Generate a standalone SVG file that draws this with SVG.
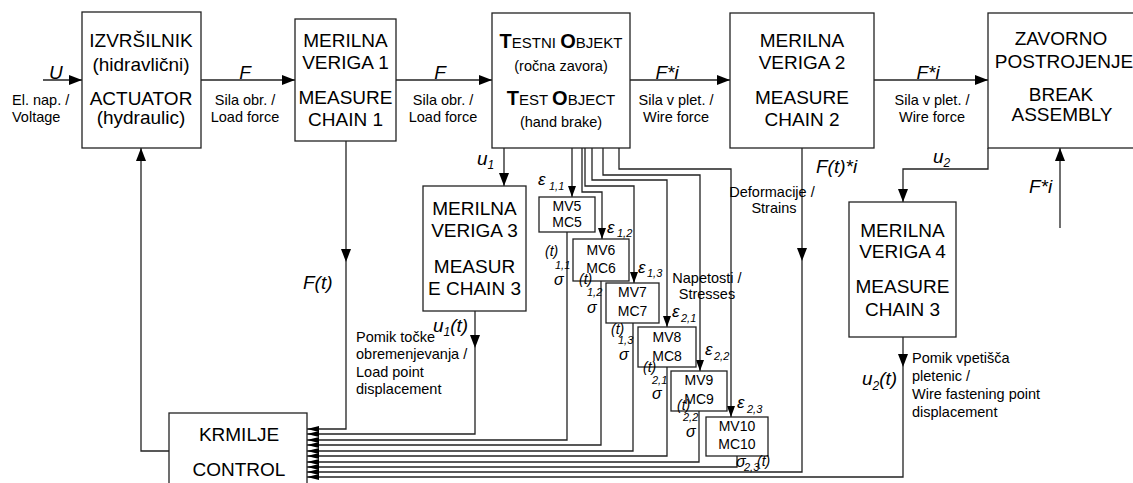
<svg xmlns="http://www.w3.org/2000/svg" width="1133" height="483" viewBox="0 0 1133 483">
<style>
text{font-family:"Liberation Sans",Arial,sans-serif;fill:#000}
.box{fill:#fff;stroke:#222;stroke-width:1.3}
.ln{fill:none;stroke:#222;stroke-width:1.3}
.b{font-size:19px;text-anchor:middle}
.s{font-size:14.5px}
.sc{font-size:14.5px;text-anchor:middle}
.i{font-size:19px;font-style:italic}
.ic{font-size:19px;font-style:italic;text-anchor:middle}
.mv{font-size:14px;text-anchor:middle}
.e{font-size:17px;font-style:italic}
.sub{font-size:11px;font-style:italic}
.tt{font-size:14px;font-style:italic}
.sg{font-size:16px;font-style:italic}
</style>
<defs>
<marker id="big" markerUnits="userSpaceOnUse" markerWidth="15" markerHeight="12" viewBox="-14 -6 15 12" refX="0" refY="0" orient="auto"><path d="M0,0 L-13,-5 L-13,5 Z" fill="#000"/></marker>
<marker id="med" markerUnits="userSpaceOnUse" markerWidth="13" markerHeight="10" viewBox="-12 -5 13 10" refX="0" refY="0" orient="auto"><path d="M0,0 L-11,-4 L-11,4 Z" fill="#000"/></marker>
<marker id="sm" markerUnits="userSpaceOnUse" markerWidth="14" markerHeight="8" viewBox="-13 -4 14 8" refX="0" refY="0" orient="auto"><path d="M0,0 L-12,-3 L-12,3 Z" fill="#000"/></marker>
</defs>

<g id="connectors">
<path class="ln" d="M43,80 H82" marker-end="url(#big)"/>
<path class="ln" d="M201,80 H295" marker-end="url(#big)"/>
<path class="ln" d="M396,80 H492" marker-end="url(#big)"/>
<path class="ln" d="M630,80 H730" marker-end="url(#big)"/>
<path class="ln" d="M874,80 H988" marker-end="url(#big)"/>
<path class="ln" d="M504,148 V186" marker-end="url(#big)"/>
<path class="ln" d="M572,148 V197" marker-end="url(#med)"/>
<path class="ln" d="M582,148 V192 H602 V239" marker-end="url(#med)"/>
<path class="ln" d="M585,148 V186 H634 V283" marker-end="url(#med)"/>
<path class="ln" d="M592,148 V180 H667 V327" marker-end="url(#med)"/>
<path class="ln" d="M603,148 V175 H700 V371" marker-end="url(#med)"/>
<path class="ln" d="M619,148 V169 H731 V417" marker-end="url(#med)"/>
<path class="ln" d="M802,148 V261" marker-end="url(#big)"/>
<path class="ln" d="M802,261 V472 H307" marker-end="url(#sm)"/>
<path class="ln" d="M988,148 V169 H903 V202" marker-end="url(#big)"/>
<path class="ln" d="M903,337 V367" marker-end="url(#big)"/>
<path class="ln" d="M903,367 V477 H307" marker-end="url(#sm)"/>
<path class="ln" d="M1060,228 V148" marker-end="url(#big)"/>
<path class="ln" d="M169,451 H141 V148" marker-end="url(#big)"/>
<path class="ln" d="M346,141 V262" marker-end="url(#big)"/>
<path class="ln" d="M346,262 V429 H307" marker-end="url(#sm)"/>
<path class="ln" d="M475,311 V348" marker-end="url(#big)"/>
<path class="ln" d="M475,348 V434 H307" marker-end="url(#sm)"/>
<path class="ln" d="M567,232 V440 H307" marker-end="url(#sm)"/>
<path class="ln" d="M601,281 V445 H307" marker-end="url(#sm)"/>
<path class="ln" d="M633,323 V451 H307" marker-end="url(#sm)"/>
<path class="ln" d="M667,367 V456 H307" marker-end="url(#sm)"/>
<path class="ln" d="M699,411 V462 H307" marker-end="url(#sm)"/>
<path class="ln" d="M737,456 V467 H307" marker-end="url(#sm)"/>
</g>

<g id="actuator">
<rect class="box" x="82" y="12" width="119" height="136"/>
<text class="b" x="141" y="47">IZVRŠILNIK</text>
<text class="b" x="141" y="71">(hidravlični)</text>
<text class="b" x="141" y="105">ACTUATOR</text>
<text class="b" x="141" y="124">(hydraulic)</text>
</g>

<g id="mc1">
<rect class="box" x="295" y="19" width="101" height="122"/>
<text class="b" x="345.5" y="47">MERILNA</text>
<text class="b" x="345.5" y="69">VERIGA 1</text>
<text class="b" x="345.5" y="104">MEASURE</text>
<text class="b" x="345.5" y="126">CHAIN 1</text>
</g>

<g id="testobject">
<rect class="box" x="492" y="13" width="138" height="135"/>
<text x="561" y="48" text-anchor="middle"><tspan font-size="20" font-weight="bold">T</tspan><tspan font-size="15">ESTNI </tspan><tspan font-size="20" font-weight="bold">O</tspan><tspan font-size="15">BJEKT</tspan></text>
<text x="561" y="71" text-anchor="middle" font-size="14.5">(ročna zavora)</text>
<text x="561" y="105" text-anchor="middle"><tspan font-size="20" font-weight="bold">T</tspan><tspan font-size="15">EST </tspan><tspan font-size="20" font-weight="bold">O</tspan><tspan font-size="15">BJECT</tspan></text>
<text x="561" y="127" text-anchor="middle" font-size="14.5">(hand brake)</text>
</g>

<g id="mc2">
<rect class="box" x="730" y="13" width="144" height="135"/>
<text class="b" x="802" y="47">MERILNA</text>
<text class="b" x="802" y="69">VERIGA 2</text>
<text class="b" x="802" y="104">MEASURE</text>
<text class="b" x="802" y="126">CHAIN 2</text>
</g>

<g id="brake">
<rect class="box" x="988" y="13" width="160" height="135"/>
<text class="b" x="1061" y="45">ZAVORNO</text>
<text class="b" x="1064" y="68">POSTROJENJE</text>
<text class="b" x="1061" y="101">BREAK</text>
<text class="b" x="1062" y="121">ASSEMBLY</text>
</g>

<g id="mc3">
<rect class="box" x="423" y="186" width="103" height="125"/>
<text class="b" x="474.5" y="215">MERILNA</text>
<text class="b" x="474.5" y="237">VERIGA 3</text>
<text class="b" x="474.5" y="273">MEASUR</text>
<text class="b" x="474.5" y="295">E CHAIN 3</text>
</g>

<g id="mc4">
<rect class="box" x="849" y="202" width="107" height="135"/>
<text class="b" x="902.5" y="237">MERILNA</text>
<text class="b" x="902.5" y="258">VERIGA 4</text>
<text class="b" x="902.5" y="293">MEASURE</text>
<text class="b" x="902.5" y="316">CHAIN 3</text>
</g>

<g id="mv5"><rect class="box" x="539" y="197" width="56" height="35"/><text class="mv" x="567" y="211">MV5</text><text class="mv" x="567" y="227">MC5</text></g>
<g id="mv6"><rect class="box" x="573" y="239" width="56" height="42"/><text class="mv" x="601" y="255">MV6</text><text class="mv" x="601" y="273">MC6</text></g>
<g id="mv7"><rect class="box" x="606" y="283" width="53" height="40"/><text class="mv" x="632.5" y="297">MV7</text><text class="mv" x="632.5" y="316">MC7</text></g>
<g id="mv8"><rect class="box" x="638" y="327" width="58" height="40"/><text class="mv" x="667" y="342">MV8</text><text class="mv" x="667" y="361">MC8</text></g>
<g id="mv9"><rect class="box" x="671" y="371" width="56" height="40"/><text class="mv" x="699" y="385">MV9</text><text class="mv" x="699" y="404">MC9</text></g>
<g id="mv10"><rect class="box" x="706" y="417" width="62" height="39"/><text class="mv" x="737" y="431">MV10</text><text class="mv" x="737" y="449">MC10</text></g>

<g id="control">
<rect class="box" x="169" y="413" width="138" height="80"/>
<text class="b" x="239" y="441">KRMILJE</text>
<text class="b" x="239" y="476">CONTROL</text>
</g>

<g id="labels">
<text class="i" x="49" y="79">U</text>
<text class="s" x="12" y="105">El. nap. /</text>
<text class="s" x="12" y="122">Voltage</text>
<text class="ic" x="245" y="79">F</text>
<text class="sc" x="245" y="105">Sila obr. /</text>
<text class="sc" x="245" y="122">Load force</text>
<text class="ic" x="440" y="79">F</text>
<text class="sc" x="443" y="105">Sila obr. /</text>
<text class="sc" x="443" y="122">Load force</text>
<text class="ic" x="667" y="79">F*i</text>
<text class="sc" x="676" y="105">Sila v plet. /</text>
<text class="sc" x="676" y="122">Wire force</text>
<text class="ic" x="928" y="79">F*i</text>
<text class="sc" x="932" y="105">Sila v plet. /</text>
<text class="sc" x="932" y="122">Wire force</text>
<text class="i" x="477" y="165">u<tspan font-size="12" dy="4">1</tspan></text>
<text class="i" x="933" y="163">u<tspan font-size="12" dy="4">2</tspan></text>
<text class="i" x="303" y="289">F(t)</text>
<text class="i" x="433" y="332">u<tspan font-size="12" dy="4">1</tspan><tspan dy="-4">(t)</tspan></text>
<text class="s" x="356" y="342">Pomik točke</text>
<text class="s" x="356" y="359">obremenjevanja /</text>
<text class="s" x="356" y="377">Load point</text>
<text class="s" x="356" y="394">displacement</text>
<text class="i" x="816" y="173">F(t)*i</text>
<text class="sc" x="772" y="197">Deformacije /</text>
<text class="sc" x="774" y="213">Strains</text>
<text class="sc" x="707" y="283">Napetosti /</text>
<text class="sc" x="707" y="299">Stresses</text>
<text class="i" x="1029" y="193">F*i</text>
<text class="i" x="862" y="385">u<tspan font-size="12" dy="5">2</tspan><tspan dy="-5">(t)</tspan></text>
<text class="s" x="912" y="363">Pomik vpetišča</text>
<text class="s" x="912" y="381">pletenic /</text>
<text class="s" x="912" y="399">Wire fastening point</text>
<text class="s" x="912" y="417">displacement</text>

<text class="e" x="538" y="185">ε</text><text class="sub" x="549" y="190">1,1</text>
<text class="e" x="607" y="233">ε</text><text class="sub" x="617" y="237">1,2</text>
<text class="e" x="638" y="273">ε</text><text class="sub" x="647" y="277">1,3</text>
<text class="e" x="672" y="317">ε</text><text class="sub" x="681" y="322">2,1</text>
<text class="e" x="705" y="355">ε</text><text class="sub" x="714" y="360">2,2</text>
<text class="e" x="737" y="408">ε</text><text class="sub" x="747" y="413">2,3</text>

<text class="tt" x="545" y="256">(t)</text><text class="sub" x="555" y="269">1,1</text><text class="sg" x="554" y="285">σ</text>
<text class="tt" x="579" y="284">(t)</text><text class="sub" x="587" y="296">1,2</text><text class="sg" x="587" y="313">σ</text>
<text class="tt" x="611" y="334">(t)</text><text class="sub" x="618" y="344">1,3</text><text class="sg" x="619" y="360">σ</text>
<text class="tt" x="643" y="372">(t)</text><text class="sub" x="652" y="384">2,1</text><text class="sg" x="652" y="399">σ</text>
<text class="tt" x="677" y="410">(t)</text><text class="sub" x="683" y="421">2,2</text><text class="sg" x="686" y="437">σ</text>
<text class="sg" x="736" y="467">σ</text><text class="sub" x="744" y="471">2,3</text><text class="tt" x="757" y="466">(t)</text>
</g>
</svg>
